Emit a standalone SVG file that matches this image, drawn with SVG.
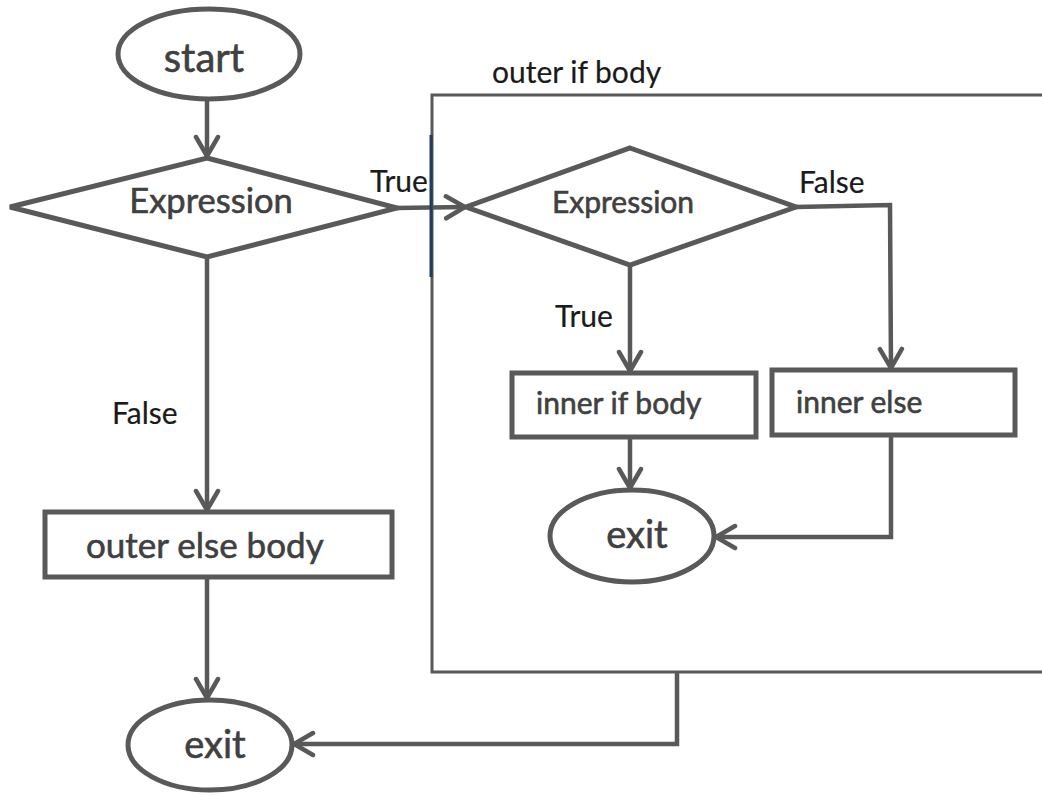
<svg xmlns="http://www.w3.org/2000/svg" width="1042" height="795" viewBox="0 0 1042 795">
  <style>
    .shape { fill: #ffffff; stroke: #595959; stroke-width: 5; }
    .frame { fill: none; stroke: #595959; stroke-width: 3; }
    .wire { fill: none; stroke: #595959; stroke-width: 4.5; stroke-linejoin: miter; }
    .node-text { font-family: Lato, "Liberation Sans", sans-serif; fill: #404040; stroke: #404040; stroke-width: 0.6; }
    .label { font-family: Lato, "Liberation Sans", sans-serif; fill: #1a1a1a; font-size: 30px; stroke: #1a1a1a; stroke-width: 0.2; }
  </style>
  <defs>
    <marker id="chevron" markerUnits="userSpaceOnUse" viewBox="-24 -14 28 28" refX="0" refY="0" markerWidth="28" markerHeight="28" orient="auto">
      <path d="M-19,-11 L0,0 L-19,11" fill="none" stroke="#595959" stroke-width="4.5" stroke-linecap="round"/>
    </marker>
  </defs>

  <rect width="1042" height="795" fill="#ffffff"/>

  <!-- outer if body container -->
  <g id="outer-if-body">
    <polyline class="frame" points="1045,95 432,95 432,672 1045,672"/>
    <text class="label" x="492" y="83" font-size="28">outer if body</text>
  </g>

  <!-- connectors -->
  <g id="connectors">
    <line class="wire" x1="207" y1="100" x2="207" y2="156" marker-end="url(#chevron)"/>
    <line class="wire" x1="396" y1="208" x2="465" y2="207" marker-end="url(#chevron)"/>
    <line class="wire" x1="207" y1="257" x2="207" y2="510" marker-end="url(#chevron)"/>
    <line class="wire" x1="207" y1="578" x2="207" y2="698" marker-end="url(#chevron)"/>
    <polyline class="wire" points="677,672 677,744 294,744" marker-end="url(#chevron)"/>
    <line class="wire" x1="630" y1="265" x2="630" y2="371" marker-end="url(#chevron)"/>
    <polyline class="wire" points="796,207 890,205 891,368" marker-end="url(#chevron)"/>
    <line class="wire" x1="630" y1="438" x2="630" y2="488" marker-end="url(#chevron)"/>
    <polyline class="wire" points="891,436 891,537 716,537" marker-end="url(#chevron)"/>
    <!-- entry edge of the outer if body -->
    <line x1="431" y1="135" x2="431" y2="277" stroke="#1f3b66" stroke-width="3"/>
    <text class="label" x="370" y="192">True</text>
    <text class="label" x="112" y="424">False</text>
    <text class="label" x="555" y="327">True</text>
    <text class="label" x="799" y="193">False</text>
  </g>

  <g id="start">
    <ellipse class="shape" cx="209" cy="54" rx="91" ry="45"/>
    <text class="node-text" x="204" y="72" font-size="40" text-anchor="middle">start</text>
  </g>

  <g id="outer-expression">
    <polygon class="shape" points="207,158 397,208 207,257 10,207"/>
    <text class="node-text" x="211" y="213" font-size="34.5" text-anchor="middle">Expression</text>
  </g>

  <g id="outer-else-body">
    <rect class="shape" x="45" y="512" width="347" height="65"/>
    <text class="node-text" x="86" y="558" font-size="35">outer else body</text>
  </g>

  <g id="outer-exit">
    <ellipse class="shape" cx="210" cy="745" rx="82" ry="45"/>
    <text class="node-text" x="215" y="758" font-size="38" text-anchor="middle">exit</text>
  </g>

  <g id="inner-expression">
    <polygon class="shape" points="630,148 796,207 630,265 466,207"/>
    <text class="node-text" x="623" y="213" font-size="30" text-anchor="middle">Expression</text>
  </g>

  <g id="inner-if-body">
    <rect class="shape" x="512" y="373" width="244" height="64"/>
    <text class="node-text" x="536" y="414" font-size="30">inner if body</text>
  </g>

  <g id="inner-else">
    <rect class="shape" x="772" y="370" width="243" height="65"/>
    <text class="node-text" x="796" y="413" font-size="30">inner else</text>
  </g>

  <g id="inner-exit">
    <ellipse class="shape" cx="632" cy="536" rx="82" ry="46"/>
    <text class="node-text" x="637" y="548" font-size="38" text-anchor="middle">exit</text>
  </g>
</svg>
